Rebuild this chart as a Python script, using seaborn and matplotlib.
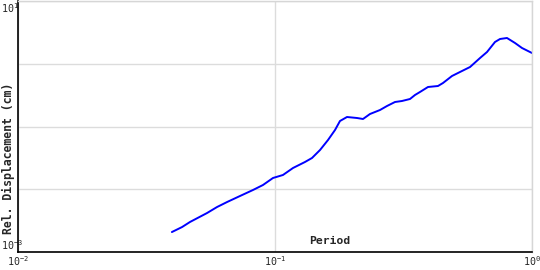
import matplotlib
matplotlib.use("Agg")
import matplotlib.pyplot as plt
import seaborn as sns
import pandas as pd
from matplotlib.ticker import NullLocator

period = [0.0397, 0.0435, 0.0467, 0.0544, 0.0595, 0.0651, 0.0731, 0.0821, 0.0898,
          0.0982, 0.1074, 0.1175, 0.1308, 0.1393, 0.1497, 0.1608, 0.1712, 0.1790,
          0.1906, 0.2085, 0.2200, 0.2342, 0.2562, 0.2728, 0.2930, 0.3119, 0.3352,
          0.3505, 0.3665, 0.3938, 0.4307, 0.4505, 0.4883, 0.5245, 0.5740, 0.6278,
          0.6683, 0.7178, 0.7508, 0.7993, 0.8588, 0.9144, 1.0]
displacement = [0.00208, 0.00250, 0.00301, 0.00418, 0.00521, 0.00626, 0.00781, 0.00973,
                0.01169, 0.01511, 0.01688, 0.02181, 0.02718, 0.03148, 0.04222, 0.06094,
                0.08793, 0.1224, 0.1417, 0.1366, 0.1317, 0.1582, 0.1832, 0.2122, 0.2457,
                0.2549, 0.2744, 0.3177, 0.3546, 0.4261, 0.4419, 0.4934, 0.6380, 0.7387,
                0.8875, 1.235, 1.539, 2.222, 2.480, 2.573, 2.142, 1.782, 1.483]

x_ticks = [0.01, 0.1, 1.0]
x_tick_labels = [r"$10^{-2}$", r"$10^{-1}$", r"$10^{0}$"]
y_ticks = [0.001, 0.01, 0.1, 1.0, 10.0]
y_tick_labels = [r"$10^{-3}$", "", "", "", r"$10^{1}$"]

df = pd.DataFrame({"Period": period, "Disp": displacement})

sns.set_style("white")
plt.rcParams["font.family"] = ["DejaVu Sans Mono", "DejaVu Sans"]
plt.rcParams["mathtext.fontset"] = "custom"
plt.rcParams["mathtext.rm"] = "DejaVu Sans Mono"
plt.rcParams["mathtext.it"] = "DejaVu Sans Mono"
plt.rcParams["mathtext.sf"] = "DejaVu Sans Mono"

fig = plt.figure(figsize=(5.4, 2.7), dpi=100)
ax = fig.add_axes([18 / 540, 1 - 252 / 270, (532 - 18) / 540, 251 / 270])

sns.lineplot(data=df, x="Period", y="Disp", ax=ax, color="#0000ff", linewidth=1.4)

ax.set_xscale("log")
ax.set_yscale("log")
ax.set_xlim(0.01, 1.0)
ax.set_ylim(0.001, 10.0)

ax.set_xticks(x_ticks, x_tick_labels)
ax.set_yticks(y_ticks, y_tick_labels)
ax.xaxis.set_minor_locator(NullLocator())
ax.yaxis.set_minor_locator(NullLocator())

ax.tick_params(axis="both", direction="in", length=3, width=1, color="black")
ax.tick_params(axis="x", labelsize=7.2, pad=1.5)
# y labels start at the very left edge of the figure (pad = 17 px)
ax.tick_params(axis="y", labelsize=7.2, pad=17 * 0.72)

ylabels = ax.get_yticklabels()
for lab in ylabels:
    lab.set_horizontalalignment("left")
ylabels[0].set_verticalalignment("bottom")
ylabels[-1].set_verticalalignment("top")

ax.grid(True, color="#dcdcdc", linewidth=1)
ax.set_axisbelow(True)

for side in ["top", "right"]:
    ax.spines[side].set_color("#d6d6d6")
    ax.spines[side].set_linewidth(1)
for side in ["left", "bottom"]:
    ax.spines[side].set_color("black")
    ax.spines[side].set_linewidth(1.2)

ax.set_xlabel("")
ax.set_ylabel("")
fig.text(330 / 540, 1 - 241 / 270, "Period", ha="center", va="center",
         fontsize=8.2, fontweight="bold")
fig.text(8 / 540, 1 - 158 / 270, "Rel. Displacement (cm)", ha="center", va="center",
         rotation=90, fontsize=8.3, fontweight="bold")

fig.savefig("out.png", dpi=100)
